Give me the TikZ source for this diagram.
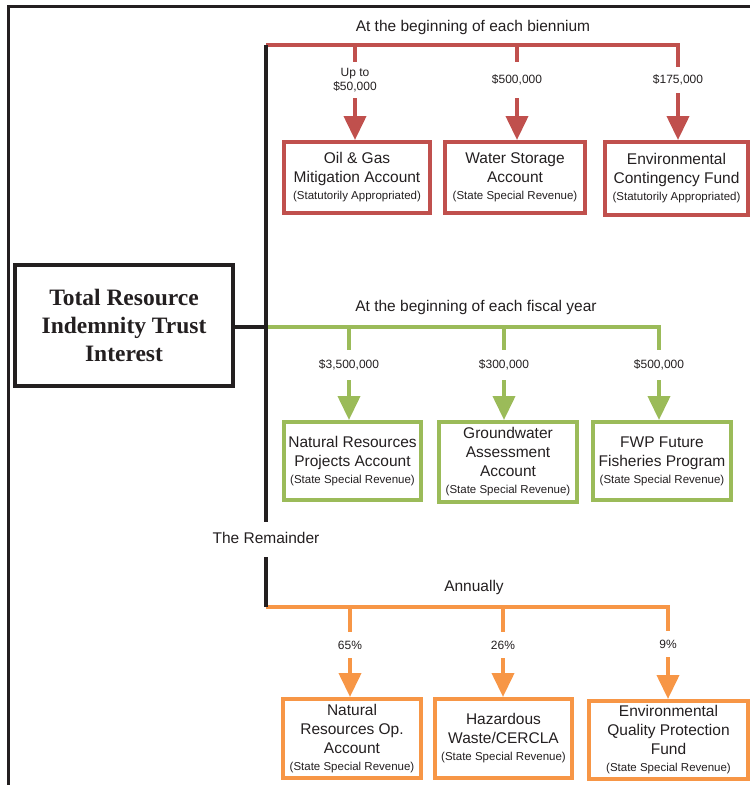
\documentclass[tikz,border=0pt]{standalone}
\usepackage{fontspec}
\setmainfont{Liberation Sans}
\newfontfamily\serifb{Liberation Serif}
\usetikzlibrary{arrows.meta}
\definecolor{cred}{HTML}{C0504D}
\definecolor{cgreen}{HTML}{9BBB59}
\definecolor{corange}{HTML}{F79646}
\definecolor{ink}{HTML}{231F20}
\tikzset{
  acct/.style={draw, line width=4pt, align=center, inner sep=0pt, text=ink,
    font=\fontsize{15.5}{19}\selectfont},
  amt/.style={align=center, inner sep=0pt, text=ink, font=\fontsize{12}{14}\selectfont},
  ttl/.style={inner sep=0pt, text=ink, font=\fontsize{15.5}{18}\selectfont},
  flow/.style={line width=4pt},
  drop/.style={line width=4pt, -{Triangle[width=22pt,length=24pt]}},
}
\newcommand{\sm}[1]{\\[-2pt]{\fontsize{11.5}{13}\selectfont #1}}
\begin{document}
\begin{tikzpicture}[x=1pt,y=-1pt]
\useasboundingbox (0,0) rectangle (750,785);
% frame
\coordinate (fbl) at (8,786);
\coordinate (ftl) at (8,6);
\coordinate (ftr) at (751,6);
\draw[line width=3pt, ink] (fbl) -- (ftl) -- (ftr);

% main box
\node[draw=ink, line width=4pt, minimum width=218pt, minimum height=121pt, inner sep=0pt,
  align=center, text=ink, font=\serifb\bfseries\fontsize{23.5}{28}\selectfont]
  (main) at (124,325.5) {Total Resource\\Indemnity Trust\\Interest};

% trunk coordinates
\coordinate (ttop) at (266,45);
\coordinate (tmid) at (266,327);
\coordinate (tend) at (266,522);
\coordinate (tlow) at (266,557);
\coordinate (tbot) at (266,607);
\node[ttl] (rem) at (266,538) {The Remainder};

% ---------- red group ----------
\node[ttl] (t1) at (473,27) {At the beginning of each biennium};
\node[acct, draw=cred, minimum width=146pt, minimum height=71pt] (og) at (357,177.5)
  {Oil \& Gas\\Mitigation Account\sm{(Statutorily Appropriated)}};
\node[acct, draw=cred, minimum width=140pt, minimum height=71pt] (ws) at (515,177.5)
  {Water Storage\\Account\sm{(State Special Revenue)}};
\node[acct, draw=cred, minimum width=143pt, minimum height=73pt] (ec) at (676.5,178.5)
  {Environmental\\Contingency Fund\sm{(Statutorily Appropriated)}};
\node[amt, minimum height=36pt] (a1) at (355,80) {Up to\\\$50,000};
\node[amt, minimum height=36pt] (a2) at (517,80) {\$500,000};
\node[amt, minimum height=26pt] (a3) at (678,80) {\$175,000};
\coordinate (r1) at (355,45);
\coordinate (r2) at (517,45);
\coordinate (r3) at (678,45);
\draw[flow, cred] (ttop) -- (r3) -- (a3.north);
\draw[flow, cred] (r1) -- (a1.north);
\draw[flow, cred] (r2) -- (a2.north);
\draw[drop, cred] (a1.south) -- (a1.south |- og.north);
\draw[drop, cred] (a2.south) -- (a2.south |- ws.north);
\draw[drop, cred] (a3.south) -- (a3.south |- ec.north);

% ---------- green group ----------
\node[ttl] (t2) at (476,307) {At the beginning of each fiscal year};
\node[acct, draw=cgreen, minimum width=137pt, minimum height=78pt] (nrp) at (352.5,461)
  {Natural Resources\\Projects Account\sm{(State Special Revenue)}};
\node[acct, draw=cgreen, minimum width=138pt, minimum height=80pt] (gw) at (508,462)
  {Groundwater\\Assessment\\Account\sm{(State Special Revenue)}};
\node[acct, draw=cgreen, minimum width=138pt, minimum height=78pt] (fwp) at (662,461)
  {FWP Future\\Fisheries Program\sm{(State Special Revenue)}};
\node[amt, minimum height=30pt] (b1) at (349,365) {\$3,500,000};
\node[amt, minimum height=30pt] (b2) at (504,365) {\$300,000};
\node[amt, minimum height=30pt] (b3) at (659,365) {\$500,000};
\coordinate (g1) at (349,327);
\coordinate (g2) at (504,327);
\coordinate (g3) at (659,327);
\draw[flow, cgreen] (tmid) -- (g3) -- (b3.north);
\draw[flow, cgreen] (g1) -- (b1.north);
\draw[flow, cgreen] (g2) -- (b2.north);
\draw[drop, cgreen] (b1.south) -- (b1.south |- nrp.north);
\draw[drop, cgreen] (b2.south) -- (b2.south |- gw.north);
\draw[drop, cgreen] (b3.south) -- (b3.south |- fwp.north);

% ---------- orange group ----------
\node[ttl] (t3) at (474,587) {Annually};
\node[acct, draw=corange, minimum width=138pt, minimum height=79pt] (nro) at (352,738.5)
  {Natural\\Resources Op.\\Account\sm{(State Special Revenue)}};
\node[acct, draw=corange, minimum width=137pt, minimum height=79pt] (hw) at (503.5,738.5)
  {Hazardous\\Waste/CERCLA\sm{(State Special Revenue)}};
\node[acct, draw=corange, minimum width=159pt, minimum height=78pt] (eq) at (668.5,740)
  {Environmental\\Quality Protection\\Fund\sm{(State Special Revenue)}};
\node[amt, minimum height=26pt] (c1) at (350,645) {65\%};
\node[amt, minimum height=26pt] (c2) at (503,645) {26\%};
\node[amt, minimum height=26pt] (c3) at (668,644) {9\%};
\coordinate (o1) at (350,607);
\coordinate (o2) at (503,607);
\coordinate (o3) at (668,607);
\draw[flow, corange] (tbot) -- (o3) -- (c3.north);
\draw[flow, corange] (o1) -- (c1.north);
\draw[flow, corange] (o2) -- (c2.north);
\draw[drop, corange] (c1.south) -- (c1.south |- nro.north);
\draw[drop, corange] (c2.south) -- (c2.south |- hw.north);
\draw[drop, corange] (c3.south) -- (c3.south |- eq.north);

% ---------- black trunk ----------
\draw[line width=4pt, ink] (main.east |- tmid) -- (tmid);
\draw[line width=4pt, ink] (ttop) -- (tend);
\draw[line width=4pt, ink] (tlow) -- (tbot);
\end{tikzpicture}
\end{document}
